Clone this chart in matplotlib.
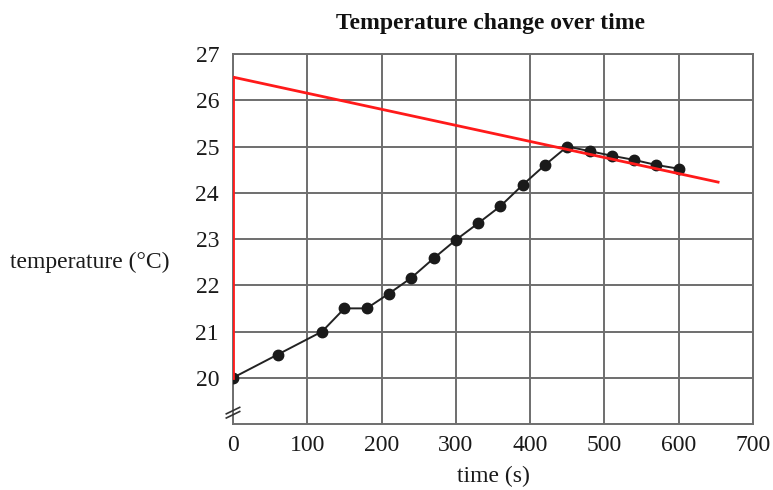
import matplotlib
matplotlib.use("Agg")
import matplotlib.pyplot as plt

# measured readings (time in s, temperature in degC)
times = [0, 60, 120, 150, 180, 210, 240, 270, 300, 330, 360, 390, 420, 450, 480, 510, 540, 570, 600]
temps = [20.0, 20.5, 21.0, 21.5, 21.5, 21.82, 22.16, 22.58, 22.98, 23.34, 23.71, 24.17, 24.6, 25.0, 24.9, 24.8, 24.71, 24.6, 24.52]

# red extrapolation lines drawn on the graph
red_vert_x = [0, 0]
red_vert_y = [20.0, 26.5]
red_slope_x = [0, 653]
red_slope_y = [26.5, 24.23]

x_ticks = [0, 100, 200, 300, 400, 500, 600, 700]
y_ticks = [20, 21, 22, 23, 24, 25, 26, 27]

plt.rcParams["font.family"] = ["Liberation Serif", "DejaVu Serif"]

fig = plt.figure(figsize=(7.73, 4.90), dpi=100)
ax = fig.add_axes([233 / 773, 1 - 424 / 490, 520 / 773, 370 / 490])

grid_col = "#6e6e6e"
ax.set_xlim(0, 700)
ax.set_ylim(19.0, 27.0)
ax.set_xticks(x_ticks)
ax.set_yticks(y_ticks)
ax.grid(True, color=grid_col, linewidth=1.4)
ax.set_axisbelow(True)
for s in ax.spines.values():
    s.set_color(grid_col)
    s.set_linewidth(1.4)
ax.tick_params(axis="x", length=0, labelsize=17, pad=8, colors="#1a1a1a")
ax.tick_params(axis="y", length=0, labelsize=17, pad=10, colors="#1a1a1a")

ax.plot(times, temps, color="#222222", linewidth=1.4, marker="o",
        markersize=7.5, markerfacecolor="#1a1a1a", markeredgecolor="#1a1a1a", zorder=3)
ax.plot(red_vert_x, red_vert_y, color="#ff1a1a", linewidth=2.0, zorder=4)
ax.plot(red_slope_x, red_slope_y, color="#ff1a1a", linewidth=2.0, zorder=4)

# axis break marks
for dy in (0.0, 0.09):
    ax.plot([-9, 9], [19.13 + dy, 19.27 + dy], color="#333333", linewidth=1.2,
            clip_on=False, zorder=5)

ax.set_xlabel("time (s)", fontsize=17, labelpad=7, color="#1a1a1a")
fig.text(10 / 773, 1 - 262 / 490, "temperature (\u00b0C)", fontsize=17,
         ha="left", va="center", color="#1a1a1a")
fig.text(491 / 773, 1 - 23 / 490, "Temperature change over time", fontsize=17,
         fontweight="bold", ha="center", va="center", color="#111111")

fig.savefig("out.png", dpi=100)
